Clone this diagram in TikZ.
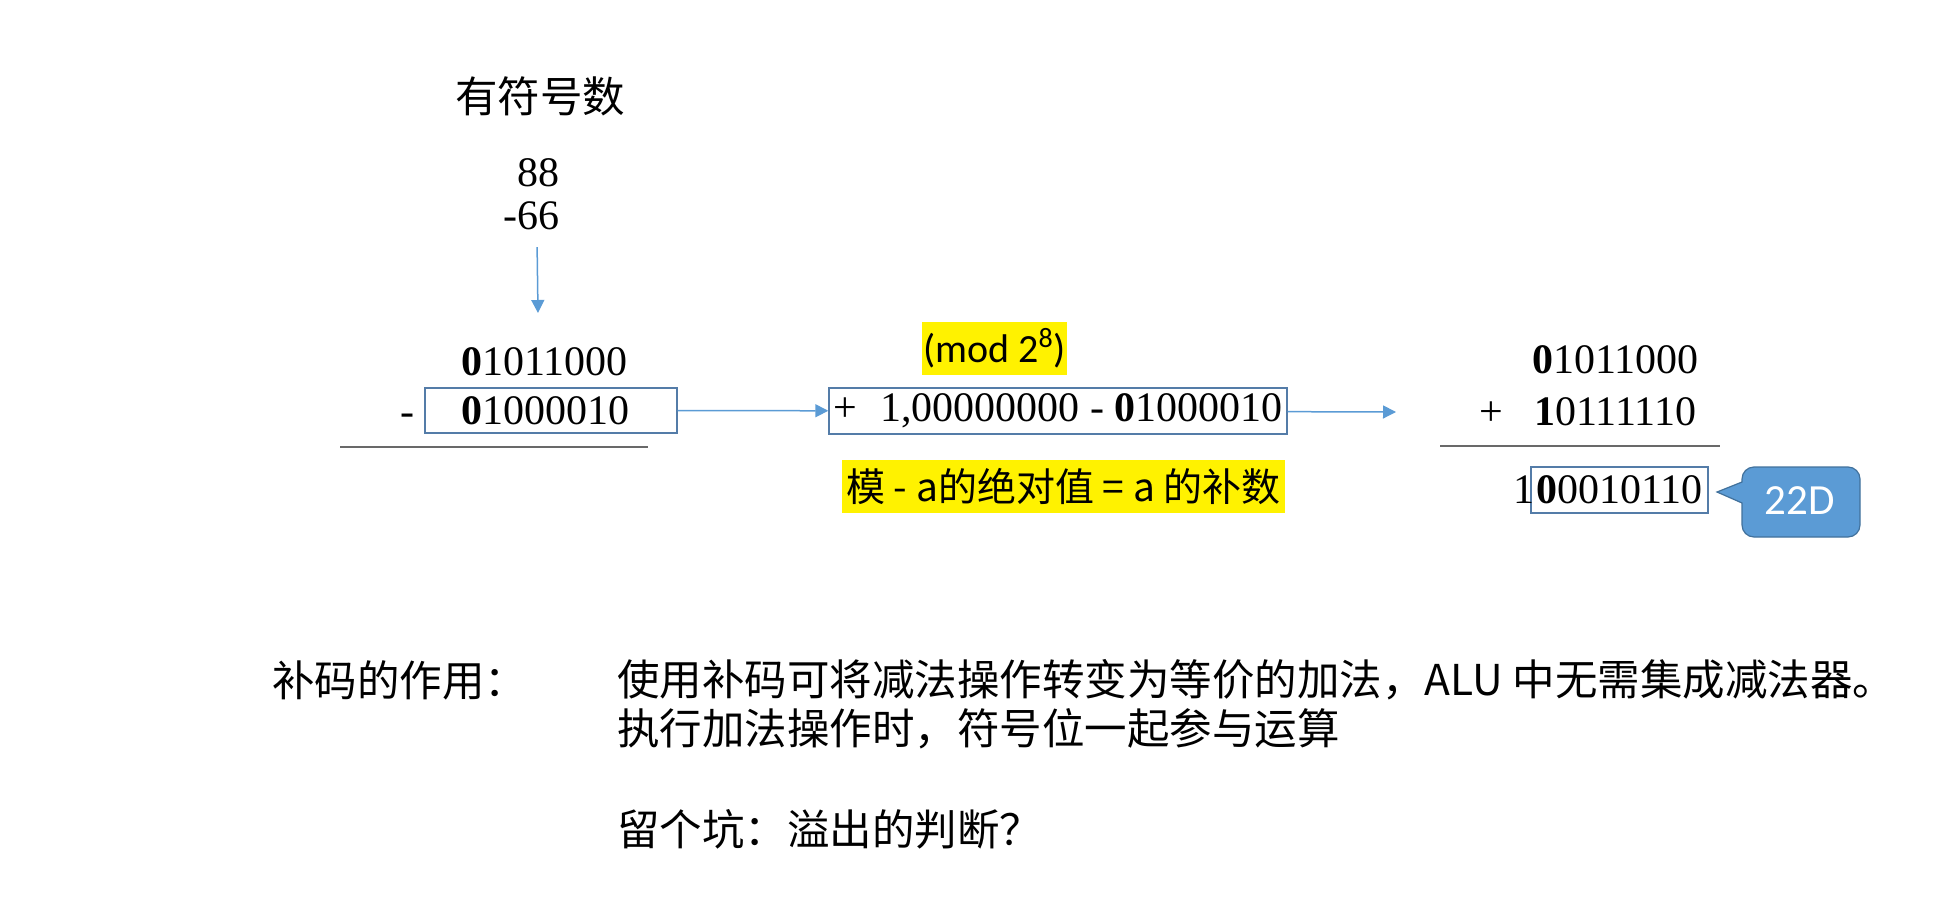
\documentclass[tikz,border=0pt]{standalone}
\usepackage{fontspec}
\setmainfont{Liberation Serif}
\newfontfamily\cjk{Noto Sans CJK SC}
\newfontfamily\calib{Carlito}
\usetikzlibrary{arrows.meta,positioning}

\definecolor{arrowblue}{RGB}{91,155,213}
\definecolor{boxblue}{RGB}{84,124,168}
\definecolor{calloutblue}{RGB}{91,155,213}
\definecolor{calloutedge}{RGB}{65,113,156}
\definecolor{rulegray}{RGB}{105,105,105}

\tikzset{
  num/.style={anchor=base west, inner sep=0pt, font=\fontsize{21}{21.5}\selectfont},
  numbox/.style={draw=boxblue, line width=.7pt, inner sep=0pt, font=\fontsize{21}{21.5}\selectfont},
  cn/.style={anchor=west, inner sep=0pt, font=\cjk\fontsize{21.25}{26}\selectfont},
  hilite/.style={fill=yellow, inner sep=0pt},
  arr/.style={-{Triangle[width=6.5pt,length=6.5pt]}, draw=arrowblue, line width=.75pt},
  sumline/.style={draw=rulegray, line width=1pt},
  callout/.style={fill=calloutblue, draw=calloutedge, line width=.6pt},
}

\begin{document}
\begin{tikzpicture}[x=.5pt,y=-.5pt]
  \useasboundingbox (0,0) rectangle (1955,915);

  % signed numbers
  \node[cn, anchor=center] (title) at (540,96) {有符号数};
  \node[num, anchor=north east, align=right] (dec) at (560,158) {88\\-66};
  \coordinate (dn) at (538,313);
  \draw[arr] ([xshift=2.75pt,yshift=-8.5pt]dec.south) -- (dn);

  % subtraction
  \node[num] (a1) at (461,375) {\textbf{0}1011000};
  \node[numbox, minimum height=22.5pt, inner xsep=18pt, text width=90pt, align=left]
        (b1) at (551,410.5) {\textbf{0}1000010};
  \node[num] (minus) at (400,425) {-};
  \draw[sumline] (340,447) -- (648,447);

  % modulus
  \node[hilite, minimum width=72.5pt, minimum height=26.5pt,
        font=\calib\fontsize{20}{24}\selectfont] (mod) at (994.5,348.5) {(mod 2\textsuperscript{8})};
  \node[numbox, minimum width=229pt, minimum height=23pt] (b2) at (1058,411)
        {+\hspace{.55em}1,00000000 - \textbf{0}1000010};
  \node[hilite, minimum width=221.5pt, minimum height=26.5pt,
        font=\cjk\fontsize{19.5}{24}\selectfont] (note) at (1063.5,486.5) {模 - a的绝对值 = a 的补数};

  \draw[arr] (b1) -- (b2);
  \coordinate (r0) at (1396,412);
  \draw[arr] (b2) -- (r0);

  % addition
  \node[num] (r1) at (1532,373) {\textbf{0}1011000};
  \node[num] (plus) at (1479,425) {+};
  \node[num] (r2) at (1534,425) {\textbf{1}0111110};
  \draw[sumline] (1440,446) -- (1720,446);
  \node[numbox, minimum width=88.5pt, minimum height=23pt] (b3) at (1619.5,490) {\textbf{0}0010110};
  \node[num, left=-2.5pt of b3] (carry) {1};

  % callout
  \draw[callout] (1742,503) [rounded corners=6pt] -- (1742,537) -- (1860,537)
        -- (1860,467) -- (1742,467) [sharp corners] -- (1742,482) -- (1717,492) -- cycle;
  \node[text=white, inner sep=0pt, font=\calib\fontsize{21.5}{25}\selectfont] (tag) at (1800,501) {22D};

  % remarks
  \node[cn] (role) at (272,680) {补码的作用：};
  \node[cn] (line1) at (617,680) {使用补码可将减法操作转变为等价的加法，ALU 中无需集成减法器。};
  \node[cn] (line2) at (617,729) {执行加法操作时，符号位一起参与运算};
  \node[cn] (line3) at (617,829) {留个坑：溢出的判断？};
\end{tikzpicture}
\end{document}
